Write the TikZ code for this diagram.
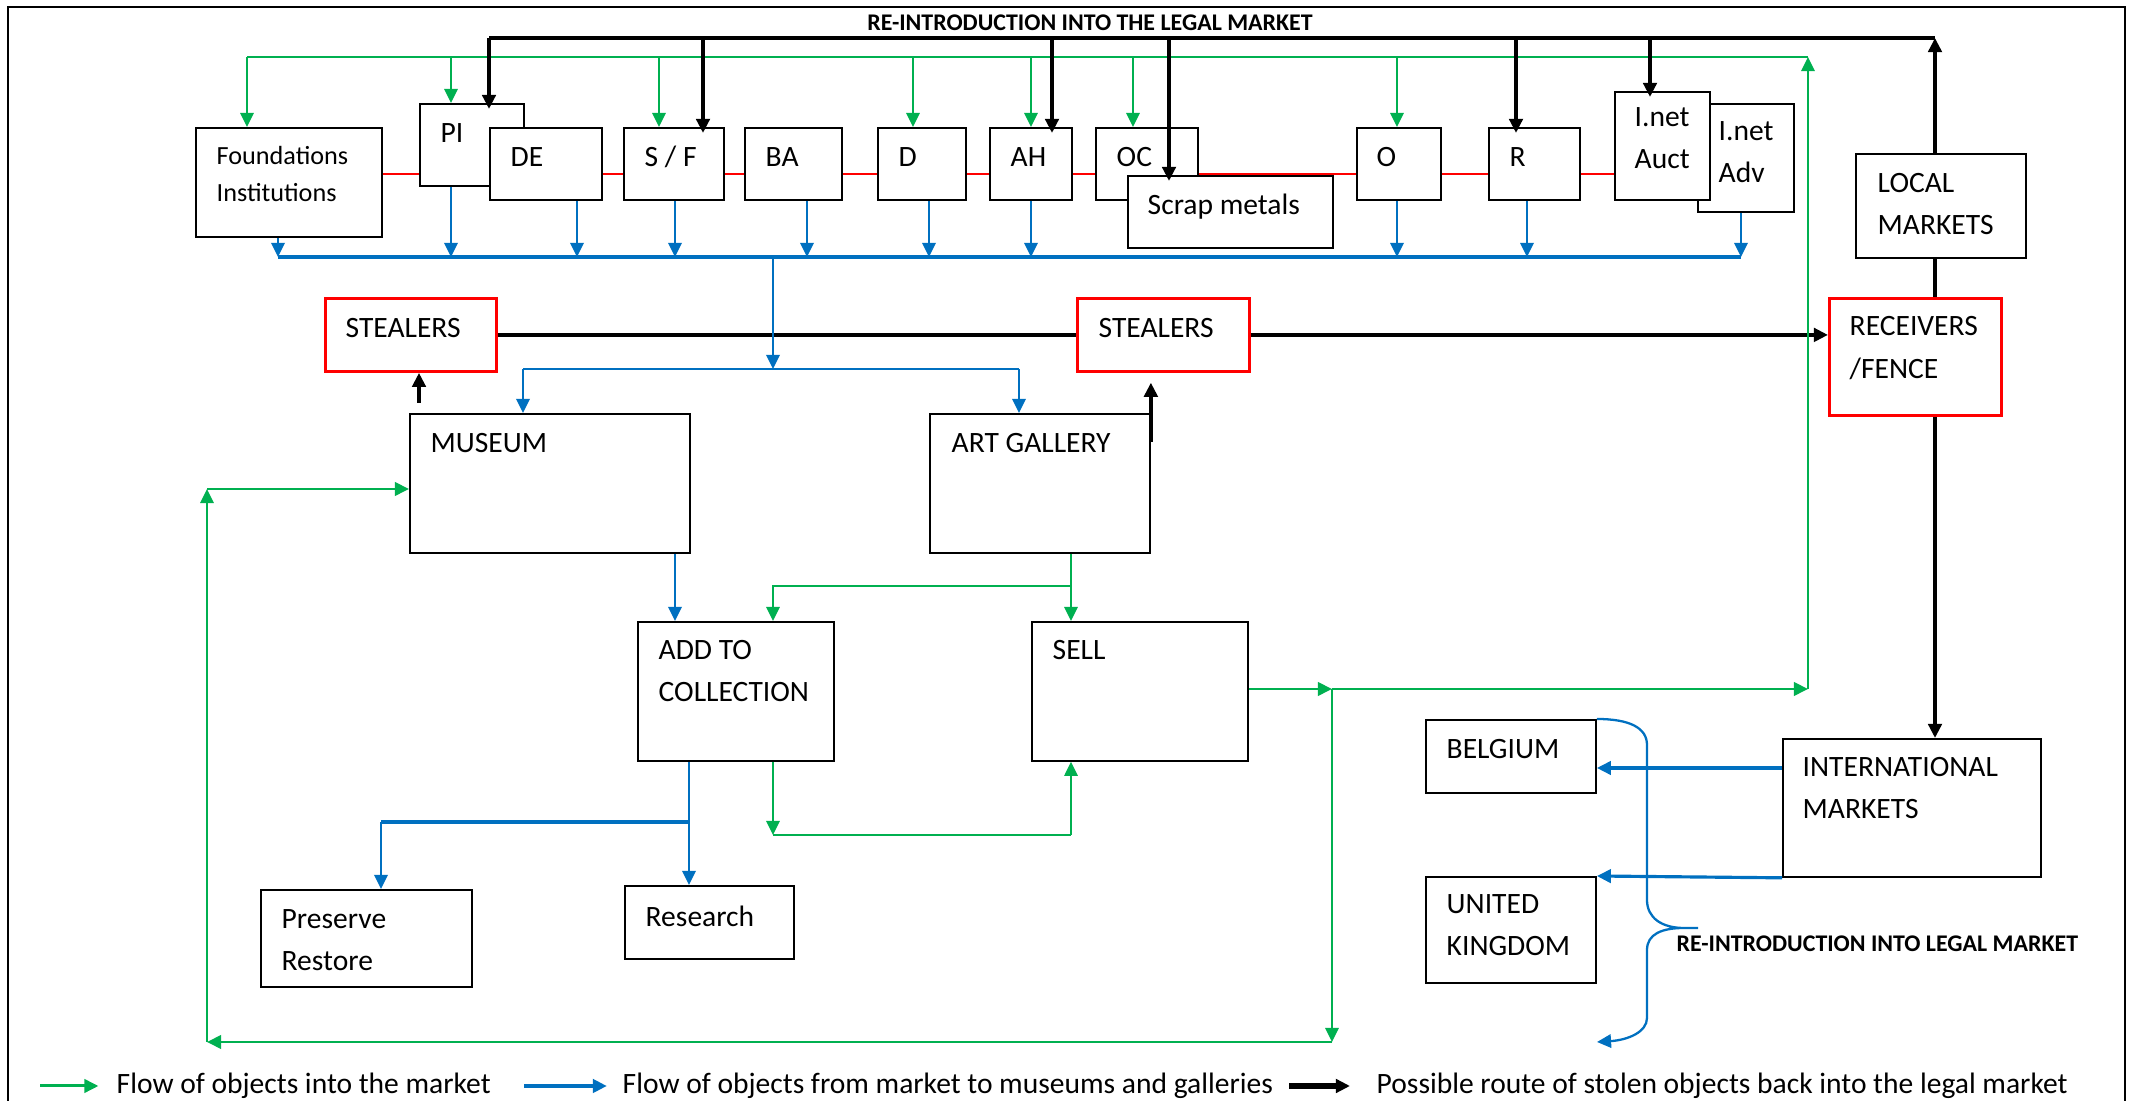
\documentclass[tikz,border=0pt]{standalone}
\usepackage{fontspec}
\setmainfont{Carlito}
\usetikzlibrary{arrows.meta,backgrounds}

\definecolor{flowgreen}{HTML}{00B050}
\definecolor{flowblue}{HTML}{0070C0}
\definecolor{alarmred}{HTML}{FF0000}

\newcommand{\boxfont}{\fontsize{8.4}{12}\selectfont}
\newcommand{\smallboxfont}{\fontsize{7.45}{10.5}\selectfont}
\newcommand{\headfont}{\fontsize{6.8}{8}\selectfont\bfseries}

\tikzset{
  box/.style={draw, fill=white, line width=0.5pt, anchor=north west, inner sep=0pt},
  thiefbox/.style={box, draw=alarmred, line width=0.8pt},
  boxtext/.style={anchor=west, align=left, inner sep=0pt, font=\boxfont},
  gline/.style={flowgreen, line width=0.55pt},
  gbus/.style={flowgreen, line width=0.8pt},
  bline/.style={flowblue, line width=0.65pt},
  bbus/.style={flowblue, line width=0.9pt},
  kline/.style={black, line width=1.3pt},
  >={Triangle[length=4pt,width=3.8pt]},
}

\begin{document}
\begin{tikzpicture}[x=0.01cm, y=-0.01cm]
  \useasboundingbox (0,0) rectangle (2132,1101);
  \draw[line width=0.7pt] (8,1101) -- (8,7) -- (2125,7) -- (2125,1101);

  % top row
  \node[box, minimum width=1.86cm, minimum height=1.09cm] (found) at (195,127) {};
  \node[boxtext, font=\smallboxfont] (foundtxt) at (216,174) {Foundations\\Institutions};
  \node[box, minimum width=1.04cm, minimum height=0.82cm] (pi) at (419,103) {};
  \node[boxtext] (pitxt) at (440,133) {PI};
  \node[box, minimum width=1.12cm, minimum height=0.72cm] (de) at (489,127) {};
  \node[boxtext] (detxt) at (510,157) {DE};
  \node[box, minimum width=1.00cm, minimum height=0.72cm] (sf) at (623,127) {};
  \node[boxtext] (sftxt) at (644,157) {S / F};
  \node[box, minimum width=0.97cm, minimum height=0.72cm] (ba) at (744,127) {};
  \node[boxtext] (batxt) at (765,157) {BA};
  \node[box, minimum width=0.88cm, minimum height=0.72cm] (d) at (877,127) {};
  \node[boxtext] (dtxt) at (898,157) {D};
  \node[box, minimum width=0.82cm, minimum height=0.72cm] (ah) at (989,127) {};
  \node[boxtext] (ahtxt) at (1010,157) {AH};
  \node[box, minimum width=1.02cm, minimum height=0.72cm] (oc) at (1095,127) {};
  \node[boxtext] (octxt) at (1116,157) {OC};
  \node[box, minimum width=2.05cm, minimum height=0.72cm] (scrap) at (1127,175) {};
  \node[boxtext] (scraptxt) at (1147,207) {Scrap metals};
  \node[box, minimum width=0.84cm, minimum height=0.72cm] (o) at (1356,127) {};
  \node[boxtext] (otxt) at (1376,157) {O};
  \node[box, minimum width=0.91cm, minimum height=0.72cm] (r) at (1488,127) {};
  \node[boxtext] (rtxt) at (1509,157) {R};
  \node[box, minimum width=0.96cm, minimum height=1.08cm] (adv) at (1697,103) {};
  \node[boxtext] (advtxt) at (1718,152) {I.net\\Adv};
  \node[box, minimum width=0.95cm, minimum height=1.08cm] (auct) at (1614,91) {};
  \node[boxtext] (aucttxt) at (1634,138) {I.net\\Auct};
  \node[box, minimum width=1.70cm, minimum height=1.04cm] (local) at (1855,153) {};
  \node[boxtext] (localtxt) at (1877,204) {LOCAL\\MARKETS};

  \begin{scope}[on background layer]
    \draw[alarmred, line width=0.3pt] (found.east |- 0,174) -- (auct.west |- 0,174);
  \end{scope}

  % thieves and receivers
  \node[thiefbox, minimum width=1.71cm, minimum height=0.73cm] (stealA) at (324,297) {};
  \node[boxtext] (stealAtxt) at (345,328) {STEALERS};
  \node[thiefbox, minimum width=1.72cm, minimum height=0.73cm] (stealB) at (1076,297) {};
  \node[boxtext] (stealBtxt) at (1098,328) {STEALERS};
  \node[thiefbox, minimum width=1.72cm, minimum height=1.17cm] (recv) at (1828,297) {};
  \node[boxtext] (recvtxt) at (1849,348) {RECEIVERS\\/FENCE};

  % museums and galleries
  \node[box, minimum width=2.80cm, minimum height=1.39cm] (museum) at (409,413) {};
  \node[boxtext] (museumtxt) at (430,443) {MUSEUM};
  \node[box, minimum width=2.20cm, minimum height=1.39cm] (gallery) at (929,413) {};
  \node[boxtext] (gallerytxt) at (951,443) {ART GALLERY};
  \node[box, minimum width=1.96cm, minimum height=1.39cm] (add) at (637,621) {};
  \node[boxtext] (addtxt) at (658,671) {ADD TO\\COLLECTION};
  \node[box, minimum width=2.16cm, minimum height=1.39cm] (sell) at (1031,621) {};
  \node[boxtext] (selltxt) at (1052,650) {SELL};
  \node[box, minimum width=2.11cm, minimum height=0.97cm] (preserve) at (260,889) {};
  \node[boxtext] (preservetxt) at (281,940) {Preserve\\Restore};
  \node[box, minimum width=1.69cm, minimum height=0.73cm] (research) at (624,885) {};
  \node[boxtext] (researchtxt) at (645,916) {Research};

  % abroad
  \node[box, minimum width=1.70cm, minimum height=0.73cm] (belgium) at (1425,719) {};
  \node[boxtext] (belgiumtxt) at (1446,749) {BELGIUM};
  \node[box, minimum width=1.70cm, minimum height=1.06cm] (uk) at (1425,876) {};
  \node[boxtext] (uktxt) at (1446,925) {UNITED\\KINGDOM};
  \node[box, minimum width=2.58cm, minimum height=1.38cm] (intl) at (1782,738) {};
  \node[boxtext] (intltxt) at (1802,788) {INTERNATIONAL\\MARKETS};

  \node[font=\headfont, inner sep=0pt] (toptitle) at (1090,23) {RE-INTRODUCTION INTO THE LEGAL MARKET};
  \node[font=\headfont, anchor=west, inner sep=0pt] (bracetitle) at (1676,944) {RE-INTRODUCTION INTO LEGAL MARKET};

  % green: into the market
  \coordinate (gtopL) at (247,57);
  \coordinate (gtopR) at (1808,57);
  \draw[gbus] (gtopL) -- (gtopR);
  \draw[gline,->] (gtopL) -- (found.north -| gtopL);
  \foreach \x/\n in {451/pi,659/sf,913/d,1031/ah,1133/oc,1397/o}
    \draw[gline,->] (gtopL -| \x,0) -- (\n.north -| \x,0);

  % black: back into the legal market
  \coordinate (ktopL) at (489,38);
  \coordinate (ktopR) at (1935,38);
  \draw[kline] (ktopL) -- (ktopR);
  \foreach \x/\n in {489/pi,703/sf,1052/ah,1169/scrap,1516/r,1650/auct}
    \draw[kline,->,shorten >=-1.7pt] (ktopL -| \x,0) -- (\n.north -| \x,0);
  \draw[kline,->] (local.north -| ktopR) -- (ktopR);
  \draw[kline] (local.south -| ktopR) -- (recv.north -| ktopR);
  \draw[kline,->] (recv.south -| ktopR) -- (intl.north -| ktopR);
  \draw[kline] (stealA.east) -- (stealB.west);
  \draw[kline,->] (stealB.east) -- (recv.west |- stealB.east);
  \coordinate (theftA) at (419,403);
  \draw[kline,->] (theftA) -- (stealA.south -| theftA);
  \draw[kline,->,shorten >=2.8pt] ([yshift=-0.29cm]gallery.north east) -- (stealB.south -| gallery.north east);

  % blue: market to museums and galleries
  \coordinate (btopL) at (278,257);
  \coordinate (btopR) at (1741,257);
  \draw[bbus] (btopL) -- (btopR);
  \foreach \x/\n in {278/found,451/pi,577/de,675/sf,807/ba,929/d,1031/ah,1397/o,1527/r,1741/adv}
    \draw[bline,->] (\n.south -| \x,0) -- (btopL -| \x,0);
  \coordinate (bsplit) at (773,369);
  \draw[bline,->] (btopL -| bsplit) -- (bsplit);
  \draw[bline] (bsplit -| 523,0) -- (bsplit -| 1019,0);
  \draw[bline,->] (bsplit -| 523,0) -- (museum.north -| 523,0);
  \draw[bline,->] (bsplit -| 1019,0) -- (gallery.north -| 1019,0);
  \draw[bline,->] (museum.south -| 675,0) -- (add.north -| 675,0);
  \coordinate (asplit) at (689,822);
  \draw[bline,->] (add.south -| asplit) -- (research.north -| asplit);
  \draw[bbus] (asplit) -- (asplit -| 381,0);
  \draw[bline,->] (asplit -| 381,0) -- (preserve.north -| 381,0);

  % green: out of gallery and collection
  \coordinate (gsplit) at (1071,586);
  \draw[gline,->] (gallery.south -| gsplit) -- (sell.north -| gsplit);
  \draw[gline,->] (gsplit) -| (add.north -| 773,0);
  \coordinate (aloop) at (773,835);
  \draw[gline,->] (add.south -| aloop) -- (aloop);
  \draw[gbus] (aloop) -- (aloop -| 1071,0);
  \draw[gline,->] (aloop -| 1071,0) -- (sell.south -| 1071,0);
  \coordinate (gjunc) at (1332,689);
  \coordinate (gright) at (1808,689);
  \draw[gbus,->] (sell.east |- gjunc) -- (gjunc);
  \draw[gbus,->] (gjunc) -- (gright);
  \draw[gline,->] (gright) -- (gtopR);
  \coordinate (gbotR) at (1332,1042);
  \coordinate (gbotL) at (207,1042);
  \coordinate (gmus) at (207,489);
  \draw[gline,->] (gjunc) -- (gbotR);
  \draw[gbus,->] (gbotR) -- (gbotL);
  \draw[gline,->] (gbotL) -- (gmus);
  \draw[gbus,->] (gmus) -- (museum.west |- gmus);

  % international markets
  \draw[bbus,->] (intl.west |- 0,768) -- (belgium.east |- 0,768);
  \draw[bbus,->] (intl.south west) -- (uk.north east);
  \coordinate (braceend) at (1597,1042);
  \draw[bline,->] (belgium.north east) .. controls (1630,719) and (1647,728) .. (1647,745)
    -- (1647,900) .. controls (1647,918) and (1662,928) .. (1684,928) -- (1698,928)
    -- (1684,928) .. controls (1662,928) and (1647,934) .. (1647,950)
    -- (1647,1018) .. controls (1647,1032) and (1628,1040) .. (braceend);

  % key
  \coordinate (keyg) at (40,1086);
  \node[boxtext] (keygtxt) at (116,1086) {Flow of objects into the market};
  \draw[flowgreen, line width=0.85pt, ->, shorten >=5pt] (keyg) -- (keygtxt.west);
  \coordinate (keyb) at (524,1086);
  \node[boxtext] (keybtxt) at (622,1086) {Flow of objects from market to museums and galleries};
  \draw[flowblue, line width=1.1pt, ->, shorten >=4.3pt] (keyb) -- (keybtxt.west);
  \coordinate (keyk) at (1289,1086);
  \node[boxtext] (keyktxt) at (1376,1086) {Possible route of stolen objects back into the legal market};
  \draw[black, line width=1.6pt, ->, shorten >=7.4pt] (keyk) -- (keyktxt.west);
\end{tikzpicture}
\end{document}
